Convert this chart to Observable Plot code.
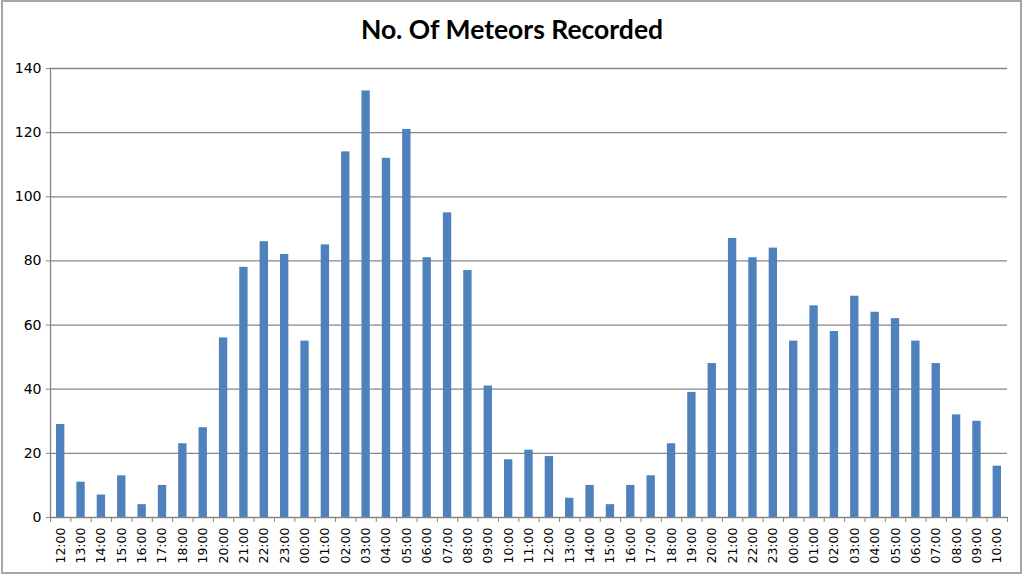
<!DOCTYPE html>
<html>
<head>
<meta charset="utf-8">
<script src="https://cdn.jsdelivr.net/npm/d3@7"></script>
<script src="https://cdn.jsdelivr.net/npm/@observablehq/plot@0.6"></script>
<style>
  html, body { margin: 0; padding: 0; background: #fff; }
  #frame { position: absolute; left: 1px; top: 0; width: 1021px; height: 574px; border: 2px solid #a6a6a6; box-sizing: border-box; pointer-events: none; }
  #title { position: absolute; left: 0; top: 0; width: 1024px; padding-top: 13px; text-align: center; font-family: Lato, "Open Sans", sans-serif; font-weight: bold; font-size: 26.5px; color: #000; line-height: normal; }
  #chart { position: absolute; left: 0; top: 56px; }
</style>
</head>
<body>
<div id="title">No. Of Meteors Recorded</div>
<div id="chart"></div>
<div id="frame"></div>
<script>
const hours = [
  "12:00","13:00","14:00","15:00","16:00","17:00","18:00","19:00","20:00","21:00","22:00","23:00",
  "00:00","01:00","02:00","03:00","04:00","05:00","06:00","07:00","08:00","09:00","10:00","11:00",
  "12:00","13:00","14:00","15:00","16:00","17:00","18:00","19:00","20:00","21:00","22:00","23:00",
  "00:00","01:00","02:00","03:00","04:00","05:00","06:00","07:00","08:00","09:00","10:00"
];
const meteors = [
  29, 11, 7, 13, 4, 10, 23, 28, 56, 78, 86, 82,
  55, 85, 114, 133, 112, 121, 81, 95, 77, 41, 18, 21,
  19, 6, 10, 4, 10, 13, 23, 39, 48, 87, 81, 84,
  55, 66, 58, 69, 64, 62, 55, 48, 32, 30, 16
];
const yTicks = [0, 20, 40, 60, 80, 100, 120, 140];

const data = meteors.map((v, i) => ({i, v}));
const idx = data.map(d => d.i);

const W = 1024, H = 519, mL = 50, mR = 17, mT = 12, mB = 58;
const step = (W - mL - mR) / idx.length;
const grid = "#868686";

const chart = Plot.plot({
  width: W,
  height: H,
  marginLeft: mL,
  marginRight: mR,
  marginTop: mT,
  marginBottom: mB,
  style: {fontFamily: "DejaVu Sans, sans-serif", color: "#000", background: "transparent"},
  x: {type: "band", domain: idx, paddingInner: 0.59, paddingOuter: 0.295, align: 0.5, round: false, axis: null, label: null},
  y: {domain: [0, 140], axis: null, label: null},
  marks: [
    Plot.gridY(yTicks.filter(t => t > 0), {stroke: grid, strokeOpacity: 1, strokeWidth: 1.3}),
    Plot.barY(data, {x: "i", y: "v", fill: "#4F81BD"}),
    Plot.ruleY([0], {stroke: grid, strokeWidth: 1.3}),
    Plot.ruleX([idx[0]], {y1: 0, y2: 140, dx: -step / 2, stroke: grid, strokeWidth: 1.3}),
    Plot.axisY({ticks: yTicks, tickSize: 4, tickPadding: 5, stroke: grid, fill: "#000", fontSize: 14, label: null}),
    Plot.axisX({ticks: idx, tickSize: 5, tickFormat: () => "", dx: -step / 2, stroke: grid, label: null}),
    Plot.axisX({ticks: [idx[idx.length - 1]], tickSize: 5, tickFormat: () => "", dx: step / 2, stroke: grid, label: null}),
    Plot.axisX({ticks: idx, tickSize: 0, tickPadding: 10, tickRotate: -90, tickFormat: i => hours[i], fill: "#000", fontSize: 12.5, label: null})
  ]
});
document.getElementById("chart").appendChild(chart);
</script>
</body>
</html>
